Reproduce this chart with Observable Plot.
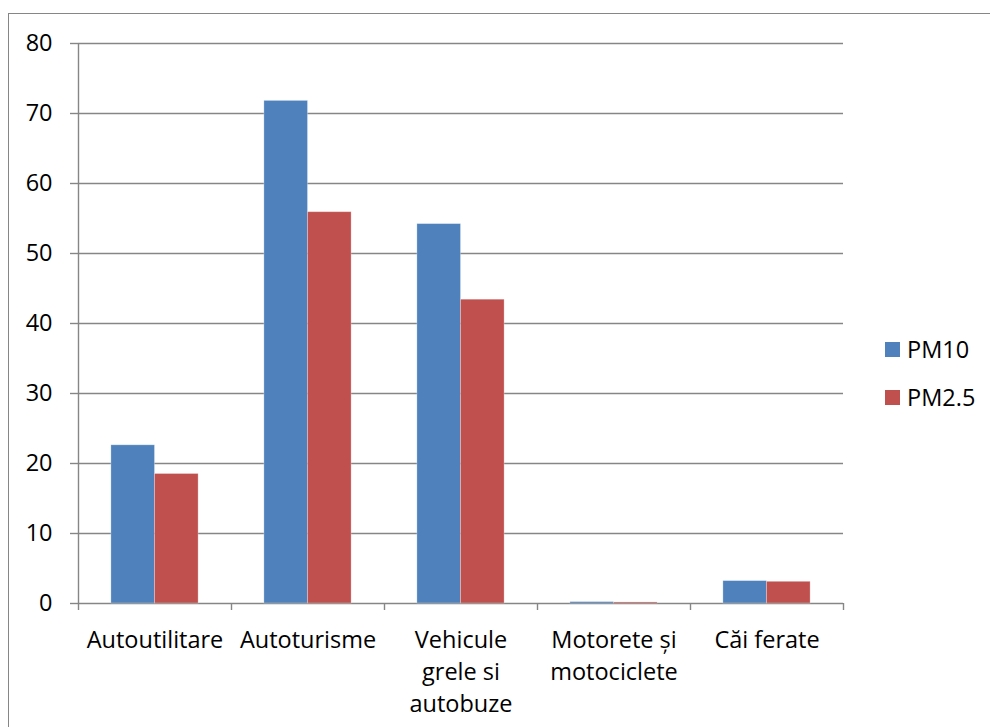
<!DOCTYPE html>
<html>
<head>
<meta charset="utf-8">
<script src="https://cdn.jsdelivr.net/npm/d3@7"></script>
<script src="https://cdn.jsdelivr.net/npm/@observablehq/plot@0.6"></script>
<style>
  html, body { margin: 0; padding: 0; background: #fff; }
  #wrap { position: relative; width: 990px; height: 727px; overflow: hidden; font-family: "Open Sans", sans-serif; }
  #frame { position: absolute; left: 8px; top: 13px; width: 1000px; height: 800px;
           border-left: 1.5px solid #868686; border-top: 1.5px solid #868686; }
  #chart { position: absolute; left: 0; top: 0; }
  #legend { position: absolute; left: 885px; top: 335px; }
  .item { display: flex; align-items: center; height: 28px; margin-bottom: 20px; font-size: 23.5px; color: #000; }
  .swatch { width: 15px; height: 15px; margin-right: 7px; }
</style>
</head>
<body>
<div id="wrap">
  <div id="frame"></div>
  <div id="chart"></div>
  <div id="legend"></div>
</div>
<script>
// Emission sources and particulate matter values
const categories = [
  "Autoutilitare",
  "Autoturisme",
  "Vehicule\ngrele si\nautobuze",
  "Motorete și\nmotociclete",
  "Căi ferate"
];
const seriesNames = ["PM10", "PM2.5"];
const pm10 = [22.6, 71.8, 54.2, 0.2, 3.2];
const pm25 = [18.5, 55.9, 43.4, 0.15, 3.1];
const seriesColors = ["#4F81BD", "#C0504D"];
const yTicks = [0, 10, 20, 30, 40, 50, 60, 70, 80];

// Each category occupies one unit of the x scale; the two bars sit centred in it.
const groupPad = 0.215;
const barWidth = (1 - 2 * groupPad) / seriesNames.length;
const valuesBySeries = [pm10, pm25];
const rows = [];
categories.forEach((cat, i) => {
  seriesNames.forEach((s, k) => {
    rows.push({
      category: cat,
      series: s,
      value: valuesBySeries[k][i],
      x1: i + groupPad + k * barWidth,
      x2: i + groupPad + (k + 1) * barWidth
    });
  });
});
const boundaries = d3.range(categories.length + 1);
const centers = categories.map((_, i) => i + 0.5);
const gray = "#868686";
const fontSize = 23.5;

const chart = Plot.plot({
  width: 990,
  height: 727,
  marginLeft: 78,
  marginRight: 147,
  marginTop: 43,
  marginBottom: 124,
  style: { fontFamily: "Open Sans, sans-serif", fontSize: fontSize + "px", color: "#000", background: "transparent", overflow: "visible" },
  x: { type: "linear", domain: [0, categories.length], axis: null },
  y: { domain: [0, 80], axis: null },
  color: { domain: seriesNames, range: seriesColors },
  marks: [
    Plot.ruleY(yTicks, { stroke: gray, strokeWidth: 1.4 }),
    Plot.rect(rows, {
      x1: "x1", x2: "x2", y1: 0, y2: "value",
      fill: "series", stroke: "#fff", strokeOpacity: 0.35, strokeWidth: 0.8
    }),
    Plot.ruleX([0], { stroke: gray, strokeWidth: 1.4 }),
    Plot.axisY(yTicks, {
      label: null, tickSize: 8, tickPadding: 18, stroke: gray, strokeWidth: 1.4, fill: "#000",
      fontSize, tickFormat: d => String(d)
    }),
    Plot.axisX(boundaries, {
      label: null, tickSize: 7, stroke: gray, strokeWidth: 1.4, tickFormat: () => ""
    }),
    Plot.axisX(centers, {
      label: null, tickSize: 0, tickPadding: 21, fill: "#000", fontSize,
      lineAnchor: "top", lineHeight: 1.38, textAnchor: "middle",
      tickFormat: d => categories[Math.floor(d)]
    })
  ]
});
document.getElementById("chart").appendChild(chart);

// Legend
const legend = document.getElementById("legend");
seriesNames.forEach((s, k) => {
  const item = document.createElement("div");
  item.className = "item";
  const sw = document.createElement("div");
  sw.className = "swatch";
  sw.style.background = seriesColors[k];
  const label = document.createElement("span");
  label.textContent = s;
  item.appendChild(sw);
  item.appendChild(label);
  legend.appendChild(item);
});
</script>
</body>
</html>
